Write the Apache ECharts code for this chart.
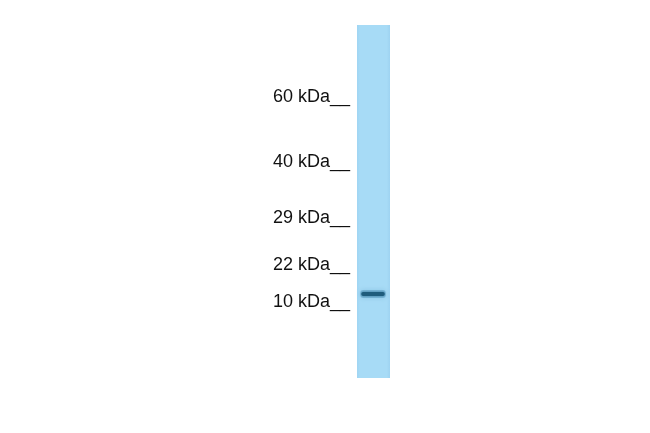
<!DOCTYPE html>
<html>
<head>
<meta charset="utf-8">
<script src="https://cdn.jsdelivr.net/npm/echarts@6/dist/echarts.min.js"></script>
<style>
html,body{margin:0;padding:0;background:#fff;}
#chart{width:650px;height:433px;}
</style>
</head>
<body>
<div id="chart"></div>
<script>
// Marker ladder (labels and relative migration along the lane, 0 = top, 1 = bottom)
var markerLabels = ['60 kDa', '40 kDa', '29 kDa', '22 kDa', '10 kDa'];
var markerMigration = [0.205, 0.388, 0.547, 0.680, 0.785];
// Detected band(s): relative migration and intensity
var bandMigration = [0.762];
var bandIntensity = [1.0];
// Lane
var laneNames = ['Sample'];

var chart = echarts.init(document.getElementById('chart'));

var markerData = markerLabels.map(function (l, i) { return [0, markerMigration[i], l]; });
var bandData = bandMigration.map(function (m, i) { return [0.5, m, bandIntensity[i]]; });

chart.setOption({
  backgroundColor: '#ffffff',
  animation: false,
  grid: { left: 357, right: 260, top: 25, bottom: 55 },
  xAxis: { type: 'value', min: 0, max: 1, show: false },
  yAxis: { type: 'value', min: 0, max: 1, inverse: true, show: false },
  series: [
    {
      name: laneNames[0],
      type: 'custom',
      data: [[0, 0, 1, 1]],
      renderItem: function (params, api) {
        var p0 = api.coord([api.value(0), api.value(1)]);
        var p1 = api.coord([api.value(2), api.value(3)]);
        return {
          type: 'rect',
          shape: { x: p0[0], y: p0[1], width: p1[0] - p0[0], height: p1[1] - p0[1] },
          style: {
            fill: new echarts.graphic.LinearGradient(0, 0, 1, 0, [
              { offset: 0, color: '#a0d5f3' },
              { offset: 0.1, color: '#a7dbf6' },
              { offset: 0.9, color: '#a7dbf6' },
              { offset: 1, color: '#9ed3f1' }
            ])
          }
        };
      }
    },
    {
      name: 'band',
      type: 'custom',
      data: bandData,
      renderItem: function (params, api) {
        var c = api.coord([api.value(0), api.value(1)]);
        var l = api.coord([0.13, api.value(1)]);
        var r = api.coord([0.84, api.value(1)]);
        return {
          type: 'group',
          children: [
            {
              type: 'rect',
              shape: { x: l[0] - 1, y: c[1] - 4, width: r[0] - l[0] + 2, height: 8, r: 3 },
              style: { fill: 'rgba(70,140,180,0.4)', shadowBlur: 5, shadowColor: 'rgba(60,130,170,0.6)' }
            },
            {
              type: 'rect',
              shape: { x: l[0], y: c[1] - 2, width: r[0] - l[0], height: 4, r: 2 },
              style: { fill: '#1f5c7c', opacity: api.value(2), shadowBlur: 2, shadowColor: '#2b6d90' }
            }
          ]
        };
      }
    },
    {
      name: 'markers',
      type: 'custom',
      data: markerData,
      renderItem: function (params, api) {
        var p = api.coord([api.value(0), api.value(1)]);
        return {
          type: 'text',
          style: {
            x: p[0] - 7,
            y: p[1],
            text: api.value(2) + '__',
            fill: '#111111',
            font: '18px "Liberation Sans", Arial, sans-serif',
            align: 'right',
            verticalAlign: 'middle'
          }
        };
      }
    }
  ]
});
</script>
</body>
</html>
